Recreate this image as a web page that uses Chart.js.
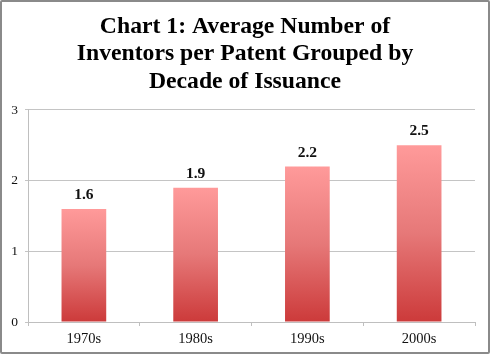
<!DOCTYPE html>
<html><head><meta charset="utf-8">
<script src="https://cdn.jsdelivr.net/npm/chart.js@4/dist/chart.umd.min.js"></script>
<style>
html,body{margin:0;padding:0;background:#fff;}
#wrap{position:absolute;left:0;top:0;width:490px;height:354px;box-sizing:border-box;border:2px solid #8a8a8a;border-radius:2px;background:#fff;}
canvas{display:block;}
</style></head>
<body>
<div id="wrap"><canvas id="c" width="486" height="350"></canvas></div>
<script>
const categories = ["1970s", "1980s", "1990s", "2000s"];
const avgInventors = [1.6, 1.9, 2.2, 2.5];
const yTicks = [0, 1, 2, 3];
const titleLines = ["Chart 1: Average Number of", "Inventors per Patent Grouped by", "Decade of Issuance"];

function barFill(ctx) {
  const chart = ctx.chart;
  const area = chart.chartArea;
  if (!area || ctx.raw === undefined) return '#e06060';
  const y = chart.scales.y;
  const top = y.getPixelForValue(ctx.raw);
  const bottom = y.getPixelForValue(0);
  const g = chart.ctx.createLinearGradient(0, top, 0, bottom);
  g.addColorStop(0, '#ff9a9a');
  g.addColorStop(0.5, '#e67878');
  g.addColorStop(1, '#cc3a3a');
  return g;
}

const valueLabels = {
  id: 'valueLabels',
  afterDatasetsDraw(chart) {
    const c = chart.ctx;
    const meta = chart.getDatasetMeta(0);
    c.save();
    c.font = 'bold 15.5px "Liberation Serif"';
    c.fillStyle = '#111';
    c.textAlign = 'center';
    c.textBaseline = 'middle';
    meta.data.forEach((bar, i) => {
      c.fillText(avgInventors[i].toFixed(1), bar.x, bar.y - 14);
    });
    c.restore();
  }
};

new Chart(document.getElementById('c'), {
  type: 'bar',
  data: {
    labels: categories,
    datasets: [{
      data: avgInventors,
      backgroundColor: barFill,
      borderWidth: 0,
      barPercentage: 0.4,
      categoryPercentage: 1.0
    }]
  },
  options: {
    responsive: false,
    animation: false,
    layout: { padding: 0 },
    plugins: {
      legend: { display: false },
      tooltip: { enabled: false },
      title: {
        display: true,
        text: titleLines,
        color: '#000',
        font: { family: '"Liberation Serif"', size: 23.7, weight: 'bold', lineHeight: 1.16 },
        padding: { top: 11, bottom: 14.5 }
      }
    },
    scales: {
      x: {
        grid: { display: true, drawOnChartArea: false, offset: true, tickLength: 4, color: '#bfbfbf' },
        border: { color: '#bfbfbf', width: 1 },
        ticks: { color: '#111', font: { family: '"Liberation Serif"', size: 14.5 }, padding: 4 },
        afterFit(s) { s.height = 30; }
      },
      y: {
        min: 0, max: 3,
        afterBuildTicks(s) { s.ticks = yTicks.map(v => ({ value: v })); },
        grid: { color: '#c4c4c4', tickLength: 3 },
        border: { color: '#bfbfbf', width: 1 },
        ticks: { color: '#111', font: { family: '"Liberation Serif"', size: 13.5 }, padding: 7 },
        afterFit(s) { s.width = 26; }
      },
      yRight: {
        position: 'right',
        min: 0, max: 3,
        grid: { display: false },
        border: { display: false },
        ticks: { display: false },
        afterFit(s) { s.width = 13; }
      }
    }
  },
  plugins: [valueLabels]
});
</script>
</body></html>
